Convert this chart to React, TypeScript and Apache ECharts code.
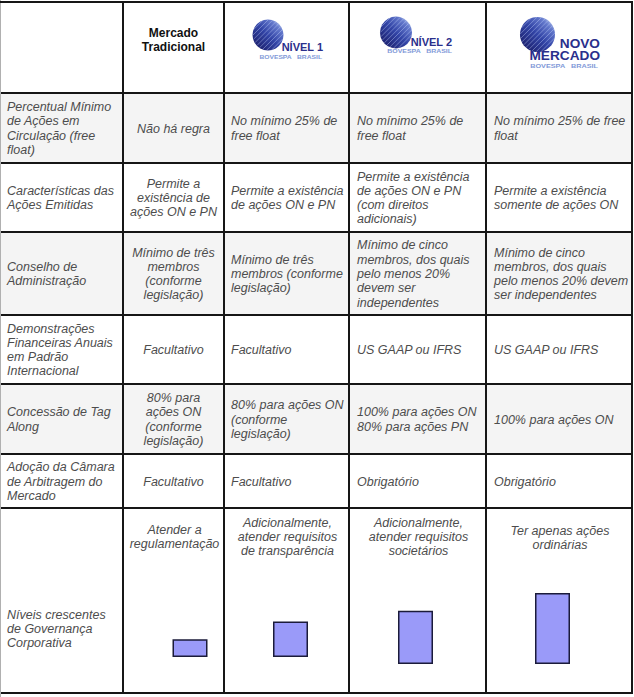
import React, { useEffect, useRef } from "react";
import * as echarts from "echarts";

// ---- data ----
const columns = ["Mercado Tradicional", "Nível 1", "Nível 2", "Novo Mercado"];
const rowLabels = [
  "Percentual Mínimo\nde Ações em\nCirculação (free\nfloat)",
  "Características das\nAções Emitidas",
  "Conselho de\nAdministração",
  "Demonstrações\nFinanceiras Anuais\nem Padrão\nInternacional",
  "Concessão de Tag\nAlong",
  "Adoção da Câmara\nde Arbitragem do\nMercado",
];
const mercadoTradicional = [
  "Não há regra",
  "Permite a\nexistência de\nações ON e PN",
  "Mínimo de três\nmembros\n(conforme\nlegislação)",
  "Facultativo",
  "80% para\nações ON\n(conforme\nlegislação)",
  "Facultativo",
];
const nivel1 = [
  "No mínimo 25% de\nfree float",
  "Permite a existência\nde ações ON e PN",
  "Mínimo de três\nmembros (conforme\nlegislação)",
  "Facultativo",
  "80% para ações ON\n(conforme\nlegislação)",
  "Facultativo",
];
const nivel2 = [
  "No mínimo 25% de\nfree float",
  "Permite a existência\nde ações ON e PN\n(com direitos\nadicionais)",
  "Mínimo de cinco\nmembros, dos quais\npelo menos 20%\ndevem ser\nindependentes",
  "US GAAP ou IFRS",
  "100% para ações ON\n80% para ações PN",
  "Obrigatório",
];
const novoMercado = [
  "No mínimo 25% de free\nfloat",
  "Permite a existência\nsomente de ações ON",
  "Mínimo de cinco\nmembros, dos quais\npelo menos 20% devem\nser independentes",
  "US GAAP ou IFRS",
  "100% para ações ON",
  "Obrigatório",
];
const governanceLabel = "Níveis crescentes\nde Governança\nCorporativa";
const governanceDescriptions = [
  "Atender a\nregulamentação",
  "Adicionalmente,\natender requisitos\nde transparência",
  "Adicionalmente,\natender requisitos\nsocietários",
  "Ter apenas ações\nordinárias",
];
const governanceLevel = [1, 2, 3, 4];

// ---- layout ----
const W = 634;
const H = 697;
const colX = [0, 123, 224, 349, 486, 632];
const rowY = [2, 93, 163, 232, 315, 384, 454, 508, 693];
const barCenters = [190, 290.5, 415.5, 552.5];
const barBottoms = [657, 657, 664, 664];
const descY = [537, 537, 537, 538];
const FONT = "Liberation Sans, Arial, Helvetica, sans-serif";
const TXT = "#4d4d4d";

function txt(text: string, x: number, y: number, align: string, extra: any = {}) {
  return {
    type: "text",
    silent: true,
    style: {
      text,
      x,
      y,
      fill: TXT,
      fontFamily: FONT,
      fontSize: 12.5,
      fontStyle: "italic",
      lineHeight: 14.3,
      align,
      textAlign: align,
      verticalAlign: "middle",
      textVerticalAlign: "middle",
      ...extra,
    },
    z: 20,
  };
}

function logo(cx: number, cy: number, r: number) {
  const els: any[] = [];
  els.push({
    type: "circle",
    shape: { cx, cy, r },
    style: {
      fill: new echarts.graphic.LinearGradient(0.1, 0.9, 0.9, 0.1, [
        { offset: 0, color: "#1c206c" },
        { offset: 0.5, color: "#3244a6" },
        { offset: 0.85, color: "#6479cc" },
        { offset: 1, color: "#a9bbe9" },
      ]),
    },
    z: 10,
  });
  const s = Math.SQRT1_2;
  for (let d = -r + 1.5; d < r - 0.5; d += 3.4) {
    const h = Math.sqrt(r * r - d * d) - 0.3;
    const px = cx + s * d;
    const py = cy + s * d;
    els.push({
      type: "line",
      shape: { x1: px - s * h, y1: py + s * h, x2: px + s * h, y2: py - s * h },
      style: { stroke: "rgba(200,214,255,0.4)", lineWidth: 1 },
      z: 11,
    });
  }
  return els;
}

function brandText(text: string, right: number, cy: number, size: number, sx: number) {
  return {
    type: "text",
    silent: true,
    x: right,
    y: cy,
    scaleX: sx,
    style: {
      text,
      x: 0,
      y: 0,
      fill: "#2a2f8c",
      fontFamily: FONT,
      fontSize: size,
      fontWeight: "bold",
      align: "right",
      textAlign: "right",
      verticalAlign: "middle",
      textVerticalAlign: "middle",
    },
    z: 12,
  };
}

function bovespa(right: number, cy: number, sx: number) {
  return {
    type: "text",
    silent: true,
    x: right,
    y: cy,
    scaleX: sx,
    style: {
      text: "BOVESPA   BRASIL",
      x: 0,
      y: 0,
      fill: "#8199d8",
      fontFamily: FONT,
      fontSize: 5.6,
      fontWeight: "bold",
      align: "right",
      textAlign: "right",
      verticalAlign: "middle",
      textVerticalAlign: "middle",
    },
    z: 12,
  };
}

export default function App() {
  const ref = useRef<HTMLDivElement>(null);
  useEffect(() => {
    if (!ref.current) return;
    const chart = echarts.init(ref.current, null, { renderer: "svg" });
    const g: any[] = [];

    // background
    g.push({ type: "rect", shape: { x: 0, y: 0, width: W, height: H }, style: { fill: "#ffffff" }, z: 0 });
    // shaded rows
    [1, 3, 5].forEach((ri) => {
      g.push({
        type: "rect",
        shape: { x: 0, y: rowY[ri], width: colX[5], height: rowY[ri + 1] - rowY[ri] },
        style: { fill: "#f4f4f4" },
        z: 1,
      });
    });

    // header
    g.push(txt("Mercado\nTradicional", (colX[1] + colX[2]) / 2, 40, "center", {
      fontStyle: "normal", fontWeight: "bold", fontSize: 12, fill: "#111111", lineHeight: 14,
    }));
    g.push(...logo(268, 35, 15.5));
    g.push(brandText("NÍVEL 1", 323, 46.5, 11, 1.0));
    g.push(bovespa(322, 56.5, 1.2));
    g.push(...logo(396, 32.5, 16));
    g.push(brandText("NÍVEL 2", 452, 42, 11, 1.0));
    g.push(bovespa(452, 50.5, 1.24));
    g.push(...logo(537.5, 34.5, 17.5));
    g.push(brandText("NOVO", 600, 43.5, 12.2, 1.12));
    g.push(brandText("MERCADO", 600, 56, 12.2, 1.12));
    g.push(bovespa(598, 65.5, 1.3));

    // body rows
    for (let i = 0; i < rowLabels.length; i++) {
      const cy = (rowY[i + 1] + rowY[i + 2]) / 2 + 0.5;
      g.push(txt(rowLabels[i], 7, cy, "left"));
      g.push(txt(mercadoTradicional[i], (colX[1] + colX[2]) / 2, cy, "center"));
      g.push(txt(nivel1[i], colX[2] + 7, cy, "left"));
      g.push(txt(nivel2[i], colX[3] + 8, cy, "left"));
      g.push(txt(novoMercado[i], colX[4] + 8, cy, "left"));
    }

    // governance row
    g.push(txt(governanceLabel, 7, 629, "left"));
    governanceDescriptions.forEach((d, i) => {
      g.push(txt(d, (colX[i + 1] + colX[i + 2]) / 2 + 1, descY[i], "center"));
    });

    // borders
    g.push({ type: "line", shape: { x1: 0.5, y1: 0, x2: 0.5, y2: 697 }, style: { stroke: "#b0b0b0", lineWidth: 1 }, z: 30 });
    rowY.forEach((y, i) => {
      g.push({
        type: "line",
        shape: { x1: i === 0 ? 0 : 1, y1: y, x2: colX[5] + 1, y2: y },
        style: { stroke: "#161616", lineWidth: 2 },
        z: 30,
      });
    });
    colX.slice(1).forEach((x) => {
      g.push({
        type: "line",
        shape: { x1: x, y1: rowY[0], x2: x, y2: rowY[8] },
        style: { stroke: "#161616", lineWidth: 2 },
        z: 30,
      });
    });

    const unitPx = 17.75;
    const maxVal = 5;
    const gh = unitPx * maxVal;
    const grids = columns.map((_, i) => ({
      left: barCenters[i] - 30,
      width: 60,
      top: barBottoms[i] - gh,
      height: gh,
    }));

    chart.setOption({
      animation: false,
      grid: grids,
      xAxis: columns.map((c, i) => ({
        type: "category",
        gridIndex: i,
        data: [c],
        show: false,
      })),
      yAxis: columns.map((_, i) => ({
        type: "value",
        gridIndex: i,
        min: 0,
        max: maxVal,
        show: false,
      })),
      series: columns.map((c, i) => ({
        type: "bar",
        name: c,
        xAxisIndex: i,
        yAxisIndex: i,
        data: [governanceLevel[i]],
        barWidth: 35,
        z: 5,
        itemStyle: { color: "#9a9af9", borderColor: "#1b1b3a", borderWidth: 1.5 },
      })),
      graphic: { elements: g },
    });
    return () => chart.dispose();
  }, []);
  return (
    <div
      ref={ref}
      style={{ position: "fixed", left: 0, top: 0, width: W, height: H, background: "#fff" }}
    />
  );
}
